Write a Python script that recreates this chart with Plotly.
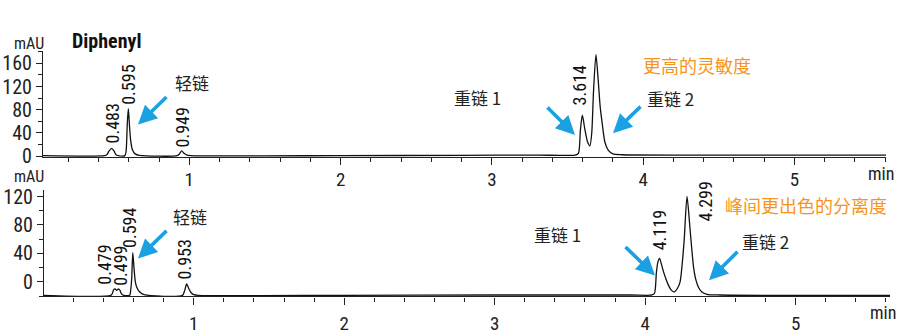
import plotly.graph_objects as go

# ---------------- data ----------------
top_time = [0.03, 0.44, 0.455, 0.47, 0.487, 0.502, 0.515, 0.53, 0.574, 0.582, 0.590, 0.597, 0.604,
            0.612, 0.624, 0.642, 0.67, 0.92, 0.935, 0.95, 0.965, 0.985, 1.01, 2.0, 2.8, 3.3, 3.55,
            3.572, 3.585, 3.598, 3.614, 3.632, 3.648, 3.66, 3.672, 3.688, 3.703, 3.716, 3.73, 3.747,
            3.77, 3.80, 3.86, 4.5, 5.605]
top_signal = [1, 1, 2.5, 9, 13.5, 9, 2.5, 1, 1, 8, 55, 82, 55,
              28, 11, 4, 1.5, 1, 4, 9, 5, 2, 1, 1, 1.5, 2, 2,
              5, 45, 70.5, 47, 25, 18, 40, 113, 175, 130, 85, 55, 24,
              10, 4, 2.5, 2, 2]

bot_time = [0.005, 0.45, 0.46, 0.468, 0.477, 0.488, 0.499, 0.51, 0.52, 0.535, 0.574, 0.582, 0.588,
            0.595, 0.603, 0.612, 0.622, 0.64, 0.67, 0.925, 0.94, 0.953, 0.966, 0.982, 1.0, 1.03,
            2.0, 3.0, 3.9, 4.045, 4.062, 4.075, 4.085, 4.096, 4.108, 4.122, 4.14, 4.155, 4.175,
            4.195, 4.215, 4.232, 4.258, 4.278, 4.296, 4.308, 4.322, 4.338, 4.355, 4.375, 4.41,
            4.5, 5.627]
bot_signal = [-19, -19, -16, -11, -10, -12, -10, -12, -17, -19, -19, -10, 5,
              41, 20, 0, -8, -14, -18, -19, -12, -3, -9, -15, -18, -19,
              -19, -18.5, -18.5, -18.5, -16, 14, 28, 33, 25, 14, 3, -5, -12,
              -14, -9, 0, 55, 120, 80, 50, 20, 2, -8, -14, -17.5,
              -18.5, -19]

top_labels = ["0.483", "0.595", "0.949", "3.614", "3.701"]
top_label_t = [0.489, 0.598, 0.955, 3.582, 3.691]
top_label_v = [18.5, 86, 12.5, 84, 184.6]

bot_labels = ["0.479", "0.499", "0.594", "0.953", "4.119", "4.299"]
bot_label_t = [0.411, 0.517, 0.577, 0.939, 4.092, 4.404]
bot_label_v = [-6.7, -8.4, 45, 0, 41.6, 82]

x_ticks = [1, 2, 3, 4, 5]
top_y_ticks = [0, 40, 80, 120, 160]
bot_y_ticks = [0, 40, 80, 120]

# ---------------- styling ----------------
W, H = 899, 335
NARROW = "Liberation Sans Narrow, Arial Narrow, Roboto Condensed, DejaVu Sans Condensed, Liberation Sans, sans-serif"
CJK = "Noto Sans CJK SC, Noto Sans, sans-serif"
BLUE = "#1ba1e2"
ORANGE = "#f7941d"
AX = "#222222"


def px(x):
    return x / W


def py(y):
    return 1 - y / H


fig = go.Figure()
fig.add_trace(go.Scatter(x=top_time, y=top_signal, mode="lines", xaxis="x", yaxis="y",
                         line=dict(color="#111111", width=1.3, shape="spline", smoothing=0.7),
                         hoverinfo="skip", showlegend=False))
fig.add_trace(go.Scatter(x=bot_time, y=bot_signal, mode="lines", xaxis="x2", yaxis="y2",
                         line=dict(color="#111111", width=1.3, shape="spline", smoothing=0.7),
                         hoverinfo="skip", showlegend=False))

xax = dict(showgrid=False, zeroline=False, showline=True, linecolor=AX, linewidth=1.2,
           ticks="outside", ticklen=7, tickwidth=1.2, tickcolor=AX, tickvals=x_ticks,
           tickfont=dict(family=NARROW, size=19, color="#222"),
           minor=dict(dtick=0.2, tick0=0, ticks="outside", ticklen=4, tickwidth=1, tickcolor=AX))
yax = dict(showgrid=False, zeroline=False, showline=True, linecolor=AX, linewidth=1.2,
           ticks="outside", ticklen=6, tickwidth=1.2, tickcolor=AX,
           tickfont=dict(family=NARROW, size=20, color="#222"),
           minor=dict(dtick=20, tick0=0, ticks="outside", ticklen=4, tickwidth=1, tickcolor=AX))

fig.update_layout(
    width=W, height=H, margin=dict(l=0, r=0, t=0, b=0),
    paper_bgcolor="white", plot_bgcolor="white", showlegend=False,
    xaxis=dict(xax, domain=[px(43), px(886)], range=[0.033, 5.605], anchor="y", ticklabelstandoff=-2),
    yaxis=dict(yax, domain=[py(160.5), py(48)], range=[-2, 182], tickvals=top_y_ticks, anchor="x"),
    xaxis2=dict(xax, domain=[px(44), px(890)], range=[0.005, 5.627], anchor="y2", ticklabelstandoff=3),
    yaxis2=dict(yax, domain=[py(307), py(195)], range=[-20.5, 129], tickvals=bot_y_ticks, anchor="x2"),
)

ann = []
# peak labels (rotated)
for txt, t, v in zip(top_labels, top_label_t, top_label_v):
    ann.append(dict(x=t, y=v, xref="x", yref="y", text=txt, showarrow=False, textangle=-90,
                    xanchor="center", yanchor="bottom", font=dict(family=NARROW, size=18, color="#111")))
for txt, t, v in zip(bot_labels, bot_label_t, bot_label_v):
    ann.append(dict(x=t, y=v, xref="x2", yref="y2", text=txt, showarrow=False, textangle=-90,
                    xanchor="center", yanchor="bottom", font=dict(family=NARROW, size=18, color="#111")))


def text(x, y, s, size=16, color="#222", family=CJK, anchor="left", bold=False):
    if bold:
        s = "<b>" + s + "</b>"
    ann.append(dict(x=px(x), y=py(y), xref="paper", yref="paper", text=s, showarrow=False,
                    xanchor=anchor, yanchor="middle", font=dict(family=family, size=size, color=color)))


def arrow(tx, ty, sx, sy):
    ann.append(dict(x=px(tx), y=py(ty), xref="paper", yref="paper", ax=sx - tx, ay=sy - ty,
                    text="", showarrow=True, arrowhead=2, arrowsize=1.05, arrowwidth=3.6,
                    arrowcolor=BLUE, standoff=0, startstandoff=0))


text(29, 41, "mAU", size=16, family=NARROW, anchor="center")
text(29, 181, "mAU", size=16, family=NARROW, anchor="center")
text(70, 38, "Diphenyl", size=20, family=NARROW, bold=True, color="#111")
text(881, 177, "min", size=18, family=NARROW, anchor="center")
text(883, 324, "min", size=18, family=NARROW, anchor="center")

text(173, 82, "轻链", size=17)
text(452, 97, "重链 1", size=17)
text(645, 98, "重链 2", size=17)
text(641, 63, "更高的灵敏度", size=18, color=ORANGE)
text(171, 223, "轻链", size=17)
text(532, 242, "重链 1", size=17)
text(740, 249, "重链 2", size=17)
text(723, 211, "峰间更出色的分离度", size=18, color=ORANGE)

arrow(138, 126, 168, 97)
arrow(575, 137, 546, 108)
arrow(613, 135, 642, 107)
arrow(138, 267, 168, 238)
arrow(655, 285, 624, 255)
arrow(709, 290, 739, 260)

fig.update_layout(annotations=ann)
fig.write_html("out.html")
